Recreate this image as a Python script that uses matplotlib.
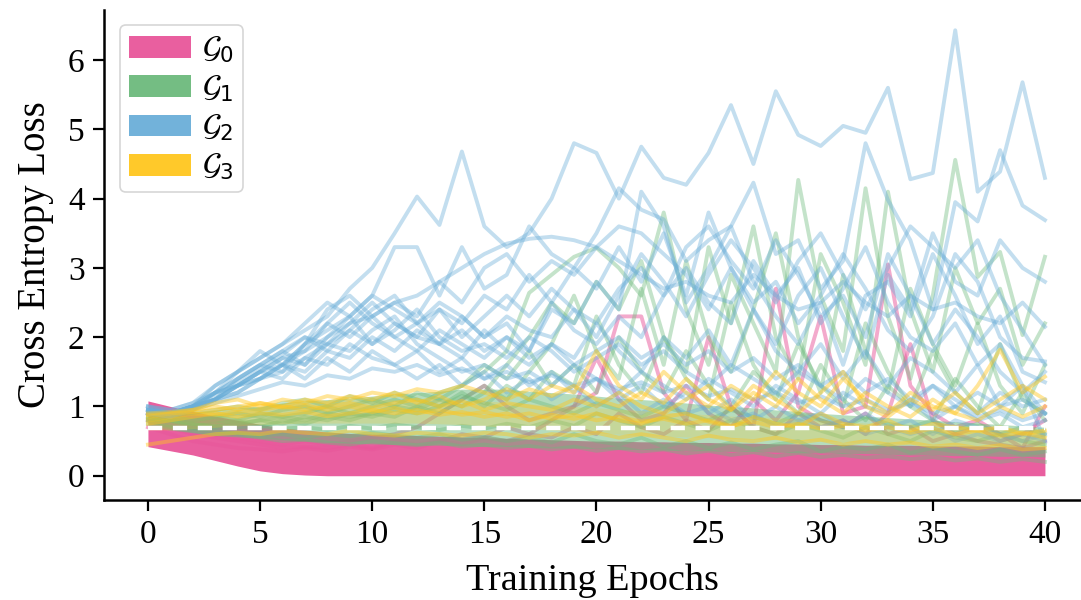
import numpy as np
import matplotlib
matplotlib.use("Agg")
import matplotlib.pyplot as plt
from matplotlib.patches import Patch

plt.rcParams['font.family'] = ['Liberation Serif', 'DejaVu Serif']

epochs = list(range(41))

# ---- G0 (dense band + outliers) ----
g0_lower = [0.42, 0.36, 0.30, 0.22, 0.14, 0.07, 0.03, 0.01] + [0.0] * 33
g0_upper = [1.08, 1.00, 0.93, 0.86, 0.80, 0.74, 0.69, 0.66, 0.63, 0.61, 0.60, 0.59, 0.58, 0.57,
            0.56, 0.55, 0.54, 0.53, 0.52, 0.51, 0.50, 0.50, 0.49, 0.49, 0.48, 0.48, 0.47, 0.47,
            0.46, 0.46, 0.45, 0.45, 0.44, 0.44, 0.44, 0.43, 0.43, 0.43, 0.42, 0.42, 0.42]
g0_out1 = [0.9, 0.8, 0.7, 0.6, 0.55, 0.5, 0.45, 0.5, 0.45, 0.5, 0.55, 0.6, 0.7, 0.9, 1.1, 1.3, 1.0, 0.8,
           0.9, 1.0, 1.2, 2.3, 2.3, 1.2, 0.8, 2.0, 1.0, 0.7, 2.7, 1.0, 0.8, 0.7, 0.9, 0.6, 0.7, 0.5,
           0.6, 0.5, 0.45, 0.4, 0.5]
g0_out2 = [0.8, 0.7, 0.6, 0.55, 0.5, 0.45, 0.4, 0.42, 0.4, 0.45, 0.4, 0.5, 0.45, 0.5, 0.6, 0.55, 0.7,
           0.6, 0.8, 1.0, 1.7, 1.1, 0.8, 0.9, 1.3, 0.9, 0.7, 1.1, 0.8, 1.2, 2.3, 0.9, 1.0, 3.05, 1.3,
           0.9, 0.7, 0.8, 0.6, 0.4, 1.0]
g0_out3 = [0.7, 0.6, 0.5, 0.45, 0.4, 0.38, 0.35, 0.4, 0.36, 0.42, 0.38, 0.45, 0.4, 0.5, 0.45, 0.55,
           0.5, 0.6, 0.55, 0.7, 0.6, 0.9, 0.7, 0.6, 0.8, 0.65, 1.0, 0.7, 0.6, 0.9, 0.7, 0.8, 0.6,
           0.9, 1.9, 0.8, 0.6, 0.7, 0.5, 0.6, 0.8]
g0_lines = [g0_out1, g0_out2, g0_out3]

# ---- G1 ----
g1_band_lower = [0.70, 0.66, 0.62, 0.58, 0.56, 0.54, 0.52, 0.50, 0.48, 0.47, 0.46, 0.45, 0.44, 0.44,
                 0.43, 0.42, 0.42, 0.41, 0.40, 0.40, 0.39, 0.38, 0.38, 0.37, 0.36, 0.36, 0.35, 0.35,
                 0.34, 0.33, 0.33, 0.32, 0.32, 0.31, 0.30, 0.30, 0.29, 0.29, 0.28, 0.28, 0.27]
g1_band_upper = [0.95, 0.92, 0.92, 0.95, 0.98, 1.0, 1.05, 1.08, 1.1, 1.12, 1.15, 1.18, 1.2, 1.22,
                 1.25, 1.25, 1.25, 1.22, 1.2, 1.18, 1.15, 1.12, 1.1, 1.08, 1.05, 1.02, 1.0, 0.98,
                 0.95, 0.93, 0.9, 0.88, 0.86, 0.84, 0.82, 0.8, 0.78, 0.76, 0.74, 0.72, 0.7]
g1_a = [0.9, 0.85, 0.8, 0.85, 0.8, 0.9, 0.85, 0.9, 1.0, 0.9, 1.0, 1.1, 1.0, 1.2, 1.3, 1.5, 1.8, 2.64,
        2.9, 3.16, 3.29, 3.0, 2.6, 3.8, 2.4, 1.6, 2.9, 2.2, 1.5, 4.27, 2.6, 1.8, 4.15, 2.3, 1.4, 2.6,
        4.56, 2.87, 3.23, 2.03, 3.16]
g1_b = [0.85, 0.8, 0.75, 0.8, 0.75, 0.8, 0.85, 0.8, 0.9, 0.85, 0.9, 1.0, 0.95, 1.1, 1.0, 1.2, 1.6,
        2.0, 2.5, 2.2, 2.8, 2.4, 3.1, 2.0, 1.5, 3.3, 2.2, 3.6, 2.0, 1.4, 3.2, 2.5, 1.6, 4.1, 2.4, 1.5,
        3.0, 2.2, 2.7, 1.6, 2.2]
g1_c = [0.8, 0.8, 0.7, 0.75, 0.8, 0.7, 0.8, 0.75, 0.85, 0.8, 0.9, 0.85, 1.0, 0.9, 1.1, 1.3, 1.1, 1.5,
        1.9, 2.6, 1.8, 1.4, 2.7, 1.6, 3.1, 2.0, 1.5, 2.4, 3.5, 2.0, 1.2, 2.9, 1.8, 1.2, 2.7, 1.9, 1.3,
        2.2, 1.3, 0.9, 1.6]
g1_d = [0.85, 0.8, 0.75, 0.7, 0.75, 0.8, 0.75, 0.85, 0.8, 0.9, 0.85, 0.95, 0.9, 1.0, 1.2, 1.0, 1.3,
        1.1, 1.5, 1.3, 2.3, 1.6, 1.2, 2.0, 1.4, 1.1, 2.5, 1.6, 1.1, 1.9, 1.3, 1.0, 2.2, 1.5, 1.0, 1.8,
        1.2, 0.9, 1.9, 1.1, 0.9]
g1_e = [0.9, 0.85, 0.8, 0.85, 0.9, 0.85, 0.95, 1.0, 0.9, 1.0, 1.1, 1.0, 1.2, 1.1, 1.3, 1.6, 1.4, 1.8,
        1.3, 1.6, 1.2, 2.0, 1.5, 1.2, 1.8, 1.3, 1.0, 1.5, 1.2, 0.9, 1.6, 1.1, 0.8, 1.3, 1.0, 0.8, 1.4,
        1.0, 0.7, 1.2, 0.8]
g1_f = [0.75, 0.7, 0.65, 0.6, 0.62, 0.58, 0.6, 0.55, 0.6, 0.57, 0.62, 0.58, 0.55, 0.6, 0.52, 0.56,
        0.5, 0.55, 0.48, 0.6, 0.5, 0.45, 0.55, 0.42, 0.5, 0.4, 0.48, 0.38, 0.45, 0.5, 0.35, 0.42, 0.38,
        0.45, 0.33, 0.4, 0.35, 0.3, 0.38, 0.3, 0.35]
g1_g = [0.8, 0.72, 0.68, 0.66, 0.6, 0.55, 0.5, 0.52, 0.48, 0.45, 0.5, 0.47, 0.44, 0.48, 0.42, 0.45,
        0.4, 0.43, 0.38, 0.42, 0.36, 0.4, 0.35, 0.38, 0.32, 0.36, 0.3, 0.34, 0.28, 0.33, 0.27, 0.3,
        0.26, 0.28, 0.24, 0.27, 0.22, 0.25, 0.2, 0.24, 0.2]
g1_h = [0.9, 0.88, 0.9, 0.95, 1.0, 0.95, 1.05, 1.1, 1.0, 1.15, 1.05, 1.2, 1.1, 1.0, 1.15, 1.05, 0.95,
        1.1, 1.0, 0.9, 1.05, 0.95, 0.85, 1.0, 0.9, 0.8, 0.95, 0.85, 0.75, 0.9, 0.8, 0.7, 0.85, 0.75,
        0.7, 0.8, 0.65, 0.75, 0.6, 0.7, 0.6]
g1_i = [0.82, 0.78, 0.74, 0.72, 0.7, 0.72, 0.68, 0.7, 0.66, 0.72, 0.68, 0.74, 0.7, 0.66, 0.72, 0.68,
        0.75, 0.7, 0.8, 0.72, 0.9, 0.8, 0.7, 0.85, 0.75, 0.65, 0.8, 0.7, 0.6, 0.75, 0.65, 0.55, 0.7,
        0.6, 0.5, 0.65, 0.55, 0.5, 0.6, 0.5, 0.45]
g1_lines = [g1_f, g1_g, g1_i, g1_h, g1_e, g1_d, g1_c, g1_b, g1_a]

# ---- G2 ----
g2_1 = [0.95, 0.9, 1.0, 1.3, 1.5, 1.7, 1.9, 2.1, 2.3, 2.7, 3.0, 3.5, 4.03, 3.62, 4.68, 3.6, 3.3, 3.5,
        4.0, 4.8, 4.66, 4.0, 4.75, 4.3, 4.2, 4.66, 5.35, 4.5, 5.55, 4.92, 4.76, 5.05, 4.95, 5.6, 4.28,
        4.37, 6.43, 4.1, 4.39, 5.68, 4.3]
g2_2 = [0.9, 0.85, 0.95, 1.1, 1.3, 1.5, 1.6, 1.9, 2.1, 2.3, 2.6, 3.3, 3.3, 2.6, 3.3, 2.7, 2.9, 3.6,
        3.2, 3.0, 3.5, 4.15, 3.84, 3.7, 3.1, 3.4, 3.6, 4.23, 3.2, 3.4, 2.7, 3.1, 4.8, 3.98, 3.4, 2.4,
        3.95, 3.67, 4.7, 3.9, 3.69]
g2_3 = [0.9, 0.9, 1.0, 1.1, 1.3, 1.5, 1.7, 1.8, 2.0, 2.2, 2.3, 2.5, 2.6, 2.8, 3.0, 3.2, 3.35, 3.42,
        3.45, 3.4, 3.3, 3.1, 2.9, 2.7, 2.8, 2.6, 2.5, 2.9, 2.6, 2.4, 2.5, 2.8, 2.5, 2.3, 2.6, 2.4, 2.5,
        2.3, 2.2, 2.5, 2.15]
g2_4 = [0.95, 0.9, 1.0, 1.2, 1.4, 1.6, 1.5, 1.9, 2.2, 2.0, 2.3, 2.5, 2.3, 2.8, 2.5, 3.0, 3.2, 2.8,
        3.1, 2.9, 3.3, 3.6, 3.5, 3.2, 2.9, 2.4, 3.0, 2.5, 2.8, 2.2, 2.6, 3.2, 2.7, 2.1, 1.8, 2.3, 3.2,
        2.8, 2.0, 1.7, 1.65]
g2_5 = [1.0, 0.95, 1.05, 1.2, 1.3, 1.5, 1.7, 1.6, 1.9, 2.1, 1.9, 2.2, 2.0, 2.4, 2.2, 2.6, 2.4, 2.9,
        2.5, 3.0, 2.7, 3.3, 2.8, 3.5, 2.6, 3.8, 3.0, 2.4, 1.9, 2.6, 3.0, 2.3, 1.7, 2.9, 2.4, 3.5, 2.8,
        2.6, 3.4, 3.0, 2.8]
g2_6 = [0.9, 0.85, 1.0, 1.1, 1.4, 1.6, 1.8, 2.0, 1.9, 2.2, 2.5, 2.2, 2.0, 1.9, 2.3, 2.0, 2.2, 1.8,
        2.4, 2.2, 2.8, 2.4, 4.1, 3.6, 2.5, 3.0, 3.6, 2.8, 2.3, 1.9, 2.5, 1.6, 2.6, 2.8, 2.3, 3.2, 2.6,
        1.9, 2.3, 1.5, 1.35]
g2_7 = [0.95, 0.9, 0.95, 1.2, 1.3, 1.4, 1.6, 1.8, 2.2, 2.5, 2.2, 2.0, 1.8, 2.1, 1.9, 1.7, 2.0, 1.8,
        2.5, 2.1, 1.9, 2.3, 2.0, 2.6, 3.0, 2.5, 2.2, 3.1, 2.6, 3.0, 2.2, 2.7, 3.3, 2.5, 2.0, 1.8, 2.2,
        1.6, 1.9, 1.3, 0.9]
g2_8 = [0.9, 0.9, 1.0, 1.1, 1.2, 1.4, 1.6, 1.5, 1.8, 1.7, 2.0, 1.8, 2.1, 1.9, 1.7, 2.1, 1.8, 1.6,
        1.9, 1.7, 2.2, 1.8, 1.5, 2.0, 1.7, 2.1, 1.6, 2.4, 1.8, 1.5, 1.9, 1.4, 1.8, 1.3, 1.7, 1.5, 1.2,
        1.6, 1.0, 1.3, 0.5]
g2_9 = [0.95, 0.9, 1.0, 1.1, 1.3, 1.5, 1.4, 1.7, 1.9, 1.8, 2.1, 2.3, 1.9, 1.7, 1.5, 1.6, 1.4, 1.5,
        1.3, 1.6, 1.4, 1.2, 1.5, 1.3, 1.1, 1.4, 1.2, 1.0, 1.3, 1.1, 0.9, 1.2, 1.0, 0.9, 1.1, 0.8, 1.0,
        0.8, 0.9, 0.7, 0.8]
g2_10 = [1.0, 0.9, 1.0, 1.2, 1.4, 1.6, 1.8, 1.6, 2.0, 2.3, 1.9, 2.1, 2.4, 2.0, 1.8, 1.9, 1.7, 2.0,
         1.8, 1.5, 1.7, 1.9, 1.6, 1.8, 1.5, 1.3, 1.6, 1.4, 1.2, 1.5, 1.3, 1.1, 1.4, 1.2, 1.0, 1.3,
         1.1, 0.9, 1.2, 1.0, 1.1]
g2_11 = [0.9, 0.85, 0.95, 1.1, 1.2, 1.4, 1.5, 1.7, 1.6, 1.9, 1.7, 1.6, 1.8, 1.5, 1.7, 1.4, 1.6, 1.3,
         1.5, 1.2, 1.4, 1.1, 1.3, 1.0, 1.2, 0.9, 1.1, 0.8, 1.0, 0.8, 0.9, 0.7, 0.9, 0.7, 0.8, 0.6,
         0.8, 0.7, 0.6, 0.5, 0.6]
g2_12 = [0.95, 0.9, 1.0, 1.2, 1.5, 1.8, 1.6, 1.9, 2.4, 2.6, 2.3, 2.0, 2.2, 1.9, 2.1, 1.8, 2.0, 1.7,
         1.9, 1.6, 1.8, 2.0, 1.7, 1.9, 1.6, 1.8, 1.5, 1.7, 1.4, 1.6, 1.3, 1.5, 1.2, 1.4, 1.1, 1.3,
         1.0, 1.2, 1.0, 1.1, 0.9]
g2_13 = [0.9, 0.9, 1.0, 1.1, 1.3, 1.4, 1.6, 1.4, 1.7, 1.5, 1.8, 1.6, 1.4, 1.6, 1.3, 1.5, 1.2, 1.4,
         1.1, 1.3, 1.0, 1.2, 0.9, 1.1, 0.9, 1.0, 0.8, 0.9, 0.7, 0.8, 0.7, 0.8, 0.6, 0.7, 0.6, 0.7,
         0.5, 0.6, 0.5, 0.6, 0.5]
g2_14 = [1.0, 0.95, 1.05, 1.3, 1.5, 1.7, 1.9, 2.2, 2.5, 2.3, 2.6, 2.4, 2.2, 2.5, 2.3, 2.0, 2.3, 2.1,
         2.0, 2.4, 2.2, 2.7, 3.0, 2.6, 3.3, 3.6, 3.1, 2.7, 3.4, 2.9, 2.3, 2.6, 2.0, 3.2, 2.6, 1.9,
         2.4, 2.0, 1.5, 1.2, 1.5]
g2_15 = [0.95, 0.9, 1.0, 1.15, 1.35, 1.55, 1.75, 2.0, 1.8, 2.1, 2.4, 2.6, 2.2, 2.4, 2.0, 2.3, 2.6,
         2.3, 2.7, 2.4, 2.0, 2.6, 3.2, 2.8, 2.3, 2.9, 3.4, 3.0, 2.5, 3.1, 3.5, 2.9, 2.4, 3.0, 3.6,
         3.3, 3.0, 3.4, 2.6, 2.1, 1.6]
g2_16 = [0.92, 0.88, 0.95, 1.05, 1.15, 1.25, 1.35, 1.3, 1.45, 1.4, 1.55, 1.5, 1.6, 1.45, 1.55, 1.4,
         1.5, 1.35, 1.45, 1.3, 1.4, 1.25, 1.35, 1.2, 1.3, 1.15, 1.25, 1.1, 1.2, 1.05, 1.15, 1.0, 1.1,
         0.95, 1.05, 0.9, 1.0, 0.85, 0.95, 0.8, 0.9]
g2_lines = [g2_1, g2_2, g2_3, g2_4, g2_5, g2_6, g2_7, g2_8, g2_9, g2_10, g2_11, g2_12, g2_13,
            g2_14, g2_15, g2_16]

# ---- G3 ----
g3_band_lower = [0.66, 0.66, 0.68, 0.7, 0.72, 0.74, 0.75, 0.76, 0.76, 0.76, 0.76, 0.76, 0.76, 0.75,
                 0.74, 0.72, 0.7, 0.68, 0.66, 0.64, 0.62, 0.6, 0.58, 0.57, 0.56, 0.55, 0.54, 0.53,
                 0.52, 0.51, 0.5, 0.49, 0.48, 0.47, 0.46, 0.45, 0.45, 0.44, 0.43, 0.43, 0.42]
g3_band_upper = [0.86, 0.88, 0.92, 0.96, 1.0, 1.03, 1.05, 1.07, 1.08, 1.09, 1.1, 1.1, 1.1, 1.1,
                 1.09, 1.08, 1.06, 1.04, 1.02, 1.0, 0.98, 0.96, 0.94, 0.92, 0.9, 0.88, 0.86, 0.85,
                 0.84, 0.82, 0.8, 0.78, 0.76, 0.75, 0.74, 0.73, 0.72, 0.71, 0.7, 0.69, 0.68]
g3_a = [0.85, 0.9, 0.95, 1.0, 0.95, 1.05, 1.0, 1.1, 1.05, 1.15, 1.1, 1.2, 1.05, 1.15, 1.0, 1.1, 1.25,
        1.1, 1.3, 1.2, 1.8, 1.3, 1.1, 1.5, 1.2, 1.0, 1.3, 1.1, 1.5, 1.2, 1.0, 1.4, 1.1, 0.9, 1.2, 1.0,
        0.9, 1.3, 1.82, 1.2, 1.43]
g3_b = [0.8, 0.85, 0.9, 0.88, 0.92, 0.95, 1.0, 0.95, 1.0, 1.05, 0.98, 1.05, 1.1, 1.0, 1.08, 0.95,
        1.05, 1.0, 0.95, 1.1, 1.0, 1.2, 1.0, 0.9, 1.1, 1.3, 0.95, 1.2, 1.0, 1.4, 1.1, 0.9, 1.2, 1.0,
        0.85, 1.1, 0.9, 0.8, 1.0, 0.85, 1.0]
g3_c = [0.75, 0.8, 0.85, 0.9, 0.85, 0.9, 0.88, 0.92, 0.86, 0.9, 0.95, 0.9, 0.95, 0.88, 0.92, 0.85,
        0.9, 0.8, 0.88, 0.82, 0.9, 0.8, 0.75, 0.85, 0.9, 0.78, 0.7, 0.85, 0.75, 0.7, 0.9, 0.75, 0.7,
        0.8, 0.65, 0.75, 0.7, 0.65, 0.7, 0.6, 0.65]
g3_d = [0.9, 0.92, 0.95, 1.05, 1.1, 1.0, 1.1, 1.05, 1.15, 1.1, 1.2, 1.15, 1.25, 1.2, 1.3, 1.2, 1.1,
        1.25, 1.15, 1.3, 1.1, 1.0, 1.2, 1.05, 1.4, 1.1, 0.95, 1.3, 1.1, 0.9, 1.2, 1.5, 1.0, 0.85, 1.1,
        0.95, 1.2, 0.9, 1.1, 1.3, 1.1]
g3_e = [0.45, 0.5, 0.55, 0.6, 0.62, 0.6, 0.65, 0.62, 0.6, 0.65, 0.6, 0.58, 0.62, 0.6, 0.58, 0.62,
        0.6, 0.55, 0.6, 0.58, 0.62, 0.55, 0.6, 0.55, 0.5, 0.58, 0.52, 0.5, 0.55, 0.48, 0.52, 0.45,
        0.5, 0.45, 0.48, 0.42, 0.45, 0.4, 0.44, 0.38, 0.4]
g3_f = [0.88, 0.9, 0.92, 0.95, 1.0, 1.05, 0.98, 1.02, 0.95, 1.0, 0.92, 0.98, 0.9, 0.95, 0.88, 0.92,
        0.85, 0.9, 0.82, 0.88, 0.8, 0.85, 0.78, 0.82, 0.75, 0.8, 0.72, 0.78, 0.7, 0.75, 0.68, 0.72,
        0.65, 0.7, 0.62, 0.68, 0.6, 0.65, 0.58, 0.62, 0.55]
g3_lines = [g3_e, g3_c, g3_f, g3_b, g3_d, g3_a]

baseline = np.log(2)
x_ticks = [0, 5, 10, 15, 20, 25, 30, 35, 40]
y_ticks = [0, 1, 2, 3, 4, 5, 6]
group_labels = [r'$\mathcal{G}_0$', r'$\mathcal{G}_1$', r'$\mathcal{G}_2$', r'$\mathcal{G}_3$']

C0, C1, C2, C3 = '#e8569a', '#6dba7c', '#6aaed8', '#ffc61e'

fig = plt.figure(figsize=(10.81, 6.0), dpi=100)
ax = fig.add_axes([0.0962, 0.1667, 0.9028, 0.8163])
LW = 2.8
A = 0.4

# G0
ax.fill_between(epochs, g0_lower, g0_upper, color=C0, alpha=0.95, lw=0, zorder=1)
for s in g0_lines:
    ax.plot(epochs, s, color=C0, alpha=0.5, lw=LW, zorder=2)
# G1
ax.fill_between(epochs, g1_band_lower, g1_band_upper, color=C1, alpha=0.5, lw=0, zorder=2)
for s in g1_lines:
    ax.plot(epochs, s, color=C1, alpha=A, lw=LW, zorder=3)
# G2
for s in g2_lines:
    ax.plot(epochs, s, color=C2, alpha=A, lw=LW, zorder=3)
# G3
ax.fill_between(epochs, g3_band_lower, g3_band_upper, color=C3, alpha=0.22, lw=0, zorder=4)
for s in g3_lines:
    ax.plot(epochs, s, color=C3, alpha=0.45, lw=LW, zorder=4)

ax.plot([epochs[0], epochs[-1]], [baseline, baseline], color='white', lw=3.2,
        dashes=(3.2, 2.4), zorder=6)

ax.set_xlim(-1.96, 41.56)
ax.set_ylim(-0.35, 6.72)
ax.set_xticks(x_ticks)
ax.set_yticks(y_ticks)
ax.tick_params(labelsize=24, length=8, width=1.6, pad=6)
for side in ['top', 'right']:
    ax.spines[side].set_visible(False)
for side in ['left', 'bottom']:
    ax.spines[side].set_linewidth(1.8)
ax.set_xlabel('Training Epochs', fontsize=27.5, labelpad=10)
ax.set_ylabel('Cross Entropy Loss', fontsize=28, labelpad=10)

handles = [Patch(facecolor=c, edgecolor='none', alpha=0.95) for c in (C0, C1, C2, C3)]
leg = ax.legend(handles, group_labels, loc='upper left', bbox_to_anchor=(0.0164, 0.969),
                borderaxespad=0.0, fontsize=22, handlelength=2.03, handleheight=0.72,
                labelspacing=0.3, handletextpad=0.35, borderpad=0.3, frameon=True,
                fancybox=True)
leg.get_frame().set_edgecolor('#cccccc')
leg.get_frame().set_linewidth(1.2)

fig.savefig('out.png', dpi=100)
